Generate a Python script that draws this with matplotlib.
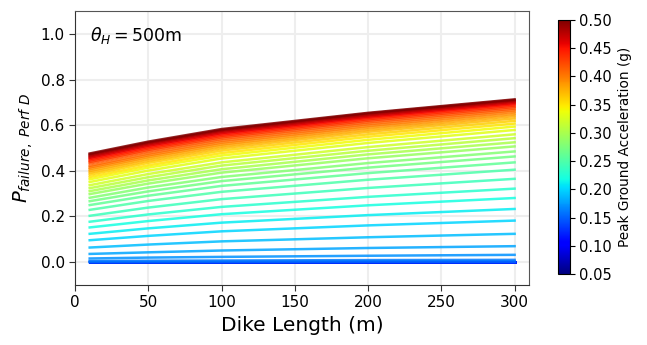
import numpy as np
import matplotlib.pyplot as plt
import matplotlib as mpl

### Failure probability of Perf D vs dike length, one curve per PGA level

dike_length = [10, 50, 100, 200, 300]

pga = [0.05, 0.06, 0.07, 0.08, 0.09, 0.10, 0.11, 0.12, 0.13, 0.14,
       0.15, 0.16, 0.17, 0.18, 0.19, 0.20, 0.21, 0.22, 0.23, 0.24,
       0.25, 0.26, 0.27, 0.28, 0.29, 0.30, 0.31, 0.32, 0.33, 0.34,
       0.35, 0.36, 0.37, 0.38, 0.39, 0.40, 0.41, 0.42, 0.43, 0.44,
       0.45, 0.46, 0.47, 0.48, 0.49, 0.50]

p_len10 = [0.000, 0.000, 0.000, 0.000, 0.000, 0.000, 0.000, 0.000, 0.000, 0.000,
           0.001, 0.005, 0.016, 0.036, 0.064, 0.096, 0.124, 0.152, 0.177, 0.203,
           0.229, 0.250, 0.267, 0.282, 0.298, 0.311, 0.324, 0.337, 0.351, 0.363,
           0.373, 0.383, 0.392, 0.400, 0.408, 0.415, 0.422, 0.432, 0.439, 0.445,
           0.451, 0.457, 0.462, 0.467, 0.472, 0.476]

p_len50 = [0.000, 0.000, 0.000, 0.000, 0.000, 0.000, 0.000, 0.000, 0.000, 0.000,
           0.001, 0.006, 0.020, 0.043, 0.077, 0.115, 0.148, 0.180, 0.209, 0.239,
           0.268, 0.291, 0.310, 0.327, 0.344, 0.358, 0.372, 0.386, 0.401, 0.414,
           0.424, 0.435, 0.444, 0.453, 0.461, 0.468, 0.476, 0.485, 0.492, 0.498,
           0.504, 0.510, 0.515, 0.520, 0.524, 0.528]

p_len100 = [0.000, 0.000, 0.000, 0.000, 0.000, 0.000, 0.000, 0.000, 0.000, 0.000,
            0.002, 0.007, 0.023, 0.051, 0.091, 0.135, 0.173, 0.210, 0.242, 0.276,
            0.308, 0.334, 0.355, 0.373, 0.392, 0.407, 0.423, 0.437, 0.454, 0.467,
            0.478, 0.489, 0.499, 0.508, 0.516, 0.524, 0.532, 0.540, 0.547, 0.553,
            0.559, 0.565, 0.570, 0.575, 0.579, 0.583]

p_len200 = [0.000, 0.000, 0.000, 0.000, 0.000, 0.000, 0.000, 0.000, 0.000, 0.001,
            0.003, 0.009, 0.028, 0.062, 0.109, 0.161, 0.206, 0.249, 0.286, 0.325,
            0.361, 0.390, 0.414, 0.434, 0.455, 0.472, 0.488, 0.504, 0.522, 0.536,
            0.549, 0.560, 0.571, 0.580, 0.589, 0.597, 0.605, 0.613, 0.620, 0.626,
            0.632, 0.637, 0.642, 0.646, 0.651, 0.654]

p_len300 = [0.000, 0.000, 0.000, 0.000, 0.000, 0.000, 0.000, 0.000, 0.000, 0.001,
            0.003, 0.010, 0.032, 0.070, 0.124, 0.182, 0.233, 0.281, 0.322, 0.365,
            0.405, 0.437, 0.463, 0.485, 0.507, 0.525, 0.543, 0.560, 0.579, 0.594,
            0.607, 0.619, 0.630, 0.640, 0.649, 0.658, 0.666, 0.673, 0.680, 0.686,
            0.692, 0.697, 0.702, 0.706, 0.710, 0.713]

p_table = np.array([p_len10, p_len50, p_len100, p_len200, p_len300]).T

### Plot

fig = plt.figure(figsize=(6.47, 3.45), dpi=100)
ax = fig.add_axes([0.116, 0.174, 0.702, 0.794])

cmap = mpl.colormaps['jet']
norm = mpl.colors.Normalize(vmin=0.05, vmax=0.5)

for a, p in zip(pga, p_table):
    ax.plot(dike_length, p, color=cmap(norm(a)), linewidth=1.8, alpha=0.85)

ax.set_xlim(0, 310)
ax.set_ylim(-0.1, 1.1)
ax.set_xticks([0, 50, 100, 150, 200, 250, 300])
ax.set_yticks([0.0, 0.2, 0.4, 0.6, 0.8, 1.0])
ax.grid(True, color='#eeeeee', linewidth=1.5)
ax.set_axisbelow(True)
for side in ['top', 'right']:
    ax.spines[side].set_color('#555555')
for side in ['left', 'bottom']:
    ax.spines[side].set_color('#333333')
ax.tick_params(labelsize=11, length=4, color='#333333')

ax.set_xlabel('Dike Length (m)', fontsize=14.5)
ax.set_ylabel(r'$P_{failure,\ Perf\ D}$', fontsize=14)
ax.text(0.033, 0.95, r'$\theta_H = 500$m', transform=ax.transAxes,
        fontsize=12.5, va='top', ha='left')

cax = fig.add_axes([0.862, 0.206, 0.0185, 0.736])
sm = mpl.cm.ScalarMappable(norm=norm, cmap=cmap)
cb = fig.colorbar(sm, cax=cax, ticks=np.arange(0.05, 0.51, 0.05))
cb.ax.set_yticklabels([f'{t:.2f}' for t in np.arange(0.05, 0.51, 0.05)])
cb.ax.tick_params(labelsize=10.5)
cb.set_label('Peak Ground Acceleration (g)', fontsize=9.8)

fig.savefig('out.png', dpi=100)
